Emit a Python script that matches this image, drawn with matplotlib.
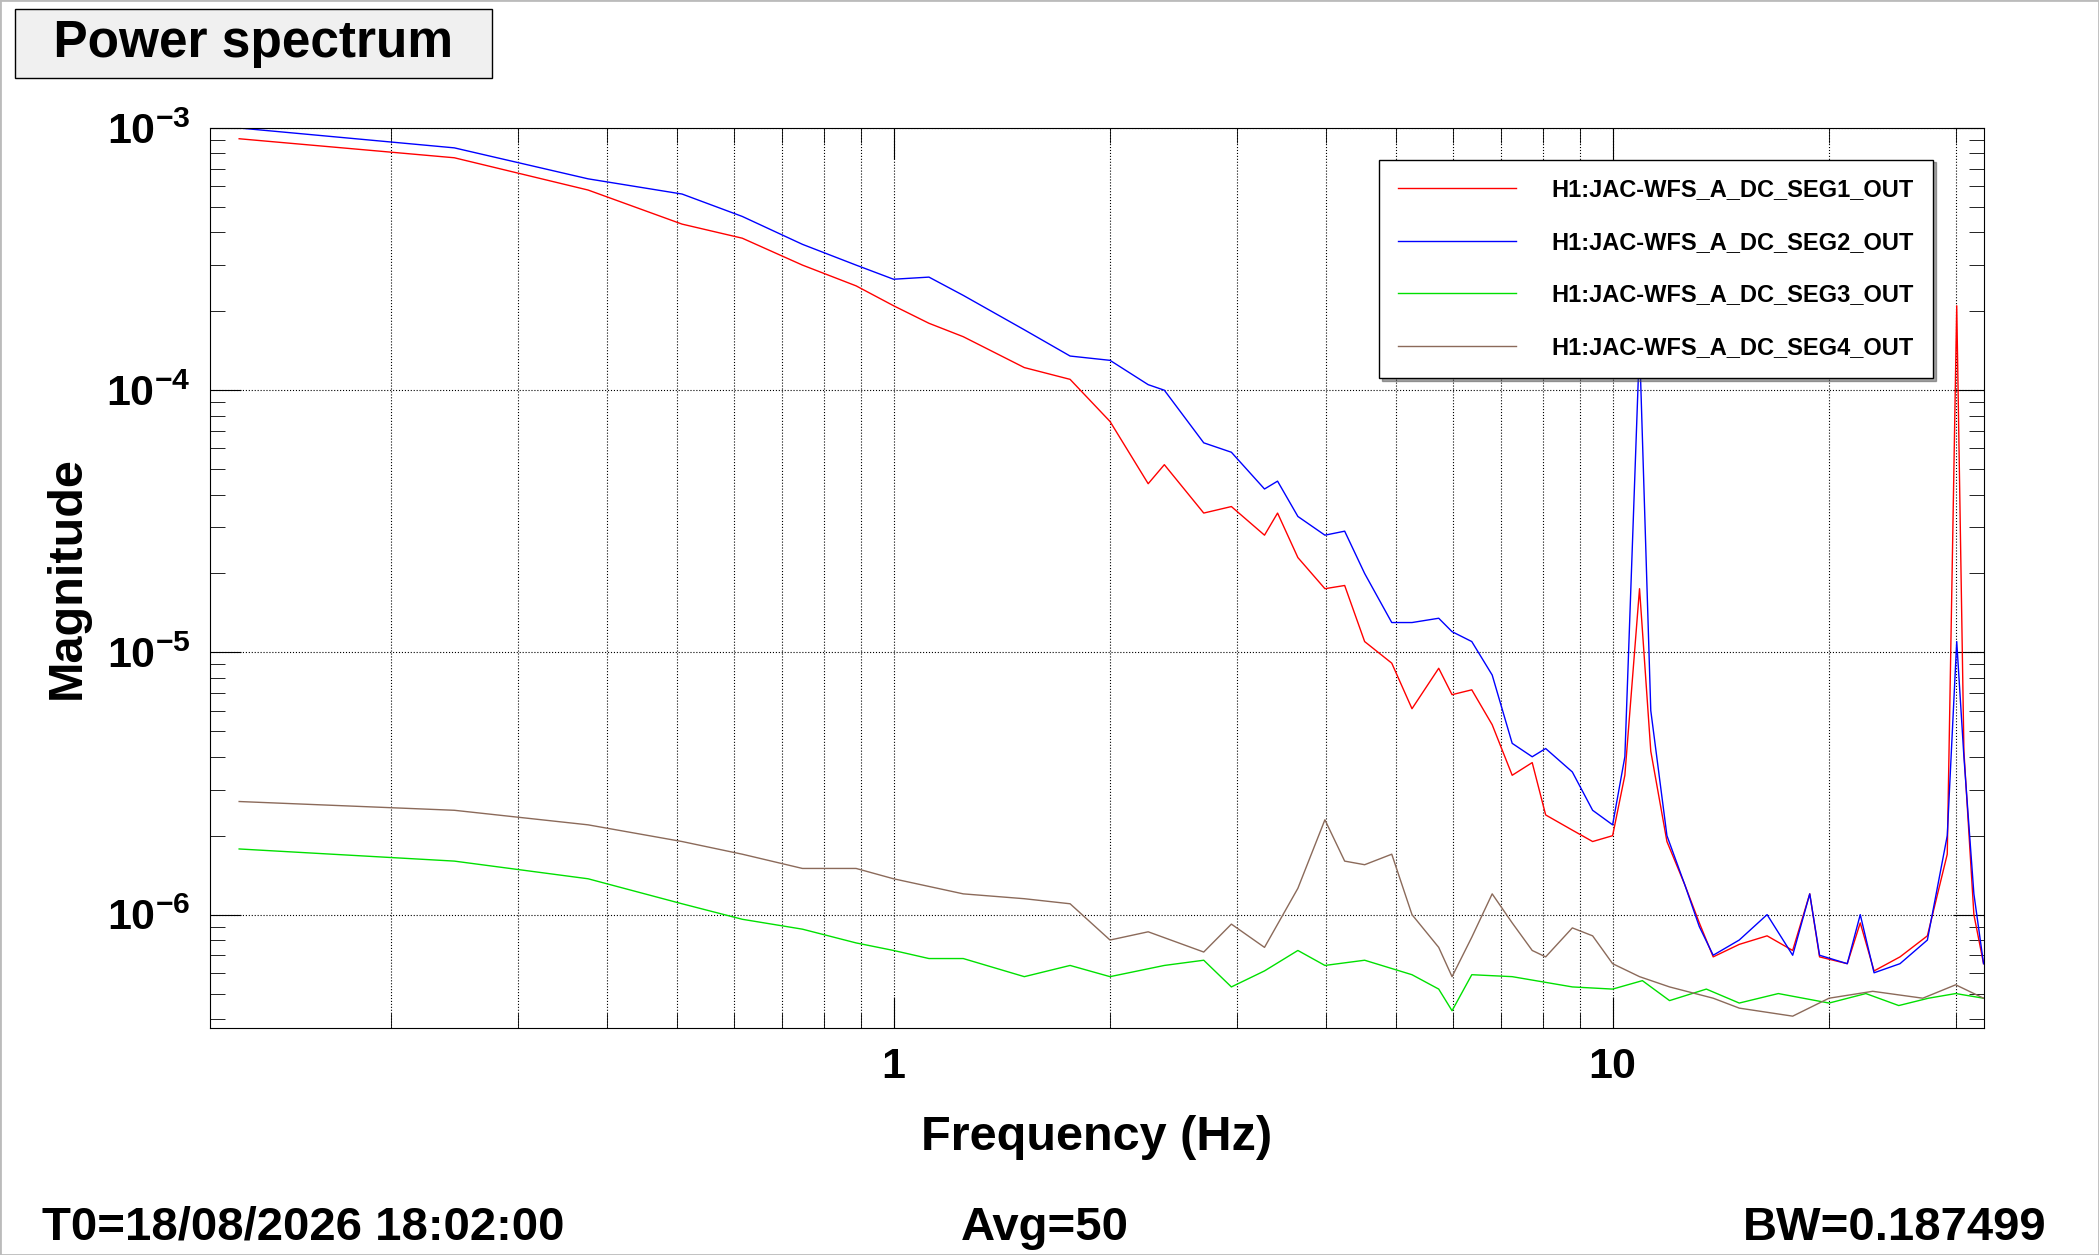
#plot_spectrum.py


import matplotlib.pyplot as plt
from matplotlib.patches import Rectangle

OUT = "out.png"
plt.rcParams["font.family"] = ["Liberation Sans", "DejaVu Sans"]
plt.rcParams["font.weight"] = "bold"

freq = [0.123, 0.245, 0.376, 0.508, 0.616, 0.747, 0.887, 1.0, 1.12, 1.25,
        1.52, 1.76, 2.0, 2.26, 2.38, 2.70, 2.95, 3.28, 3.42, 3.65,
        3.98, 4.24, 4.52, 4.93, 5.26, 5.73, 5.98, 6.37, 6.80, 7.25,
        7.73, 8.07, 8.79, 9.38, 10.0, 10.4, 10.9, 11.3, 11.9, 12.6,
        13.2, 13.8, 15.0, 16.4, 17.8, 18.8, 19.4, 21.2, 22.1, 23.1,
        25.1, 27.4, 29.2, 30.1, 30.8, 31.8, 32.8]
seg1 = [9.1e-4, 7.7e-4, 5.8e-4, 4.3e-4, 3.8e-4, 3.0e-4, 2.5e-4, 2.1e-4, 1.8e-4, 1.6e-4,
        1.22e-4, 1.1e-4, 7.6e-5, 4.4e-5, 5.2e-5, 3.4e-5, 3.6e-5, 2.8e-5, 3.4e-5, 2.3e-5,
        1.75e-5, 1.8e-5, 1.1e-5, 9.1e-6, 6.1e-6, 8.7e-6, 6.9e-6, 7.2e-6, 5.3e-6, 3.4e-6,
        3.8e-6, 2.4e-6, 2.1e-6, 1.9e-6, 2.0e-6, 3.4e-6, 1.75e-5, 4.2e-6, 1.9e-6, 1.3e-6,
        9.3e-7, 6.9e-7, 7.7e-7, 8.3e-7, 7.3e-7, 1.2e-6, 6.9e-7, 6.5e-7, 9.3e-7, 6.1e-7,
        6.9e-7, 8.3e-7, 1.7e-6, 2.1e-4, 4.2e-6, 1.0e-6, 6.5e-7]
seg2 = [1.0e-3, 8.4e-4, 6.4e-4, 5.6e-4, 4.6e-4, 3.6e-4, 3.0e-4, 2.65e-4, 2.7e-4, 2.3e-4,
        1.7e-4, 1.35e-4, 1.3e-4, 1.05e-4, 1.0e-4, 6.3e-5, 5.8e-5, 4.2e-5, 4.5e-5, 3.3e-5,
        2.8e-5, 2.9e-5, 2.0e-5, 1.3e-5, 1.3e-5, 1.35e-5, 1.2e-5, 1.1e-5, 8.2e-6, 4.5e-6,
        4.0e-6, 4.3e-6, 3.5e-6, 2.5e-6, 2.2e-6, 4e-6, 1.5e-4, 6e-6, 2.0e-6, 1.3e-6,
        9e-7, 7e-7, 8e-7, 1.0e-6, 7e-7, 1.2e-6, 7e-7, 6.5e-7, 1.0e-6, 6e-7,
        6.5e-7, 8e-7, 2e-6, 1.1e-5, 4e-6, 1.2e-6, 6.5e-7]

freq3 = [0.123, 0.245, 0.376, 0.508, 0.616, 0.747, 0.887, 1.0, 1.12, 1.25,
         1.52, 1.76, 2.0, 2.38, 2.70, 2.95, 3.28, 3.65, 3.98, 4.52,
         5.26, 5.73, 5.98, 6.37, 7.25, 8.79, 10.0, 11.0, 12.0, 13.5,
         15.0, 17.0, 20.0, 22.5, 25.0, 27.5, 30.0, 32.8]
seg3 = [1.78e-6, 1.6e-6, 1.37e-6, 1.1e-6, 9.6e-7, 8.8e-7, 7.8e-7, 7.3e-7, 6.8e-7, 6.8e-7,
        5.8e-7, 6.4e-7, 5.8e-7, 6.4e-7, 6.7e-7, 5.3e-7, 6.1e-7, 7.3e-7, 6.4e-7, 6.7e-7,
        5.9e-7, 5.2e-7, 4.3e-7, 5.9e-7, 5.8e-7, 5.3e-7, 5.2e-7, 5.6e-7, 4.7e-7, 5.2e-7,
        4.6e-7, 5.0e-7, 4.6e-7, 5.0e-7, 4.5e-7, 4.8e-7, 5.0e-7, 4.8e-7]

freq4 = [0.123, 0.245, 0.376, 0.508, 0.616, 0.747, 0.887, 1.0, 1.25, 1.52,
         1.76, 2.0, 2.26, 2.70, 2.95, 3.28, 3.65, 3.98, 4.24, 4.52,
         4.93, 5.26, 5.73, 5.98, 6.37, 6.80, 7.25, 7.73, 8.07, 8.79,
         9.38, 10.0, 10.9, 12.0, 13.8, 15.0, 17.8, 20.0, 23.0, 27.0,
         30.0, 32.8]
seg4 = [2.7e-6, 2.5e-6, 2.2e-6, 1.9e-6, 1.7e-6, 1.5e-6, 1.5e-6, 1.37e-6, 1.2e-6, 1.15e-6,
        1.1e-6, 8e-7, 8.6e-7, 7.2e-7, 9.2e-7, 7.5e-7, 1.26e-6, 2.3e-6, 1.6e-6, 1.55e-6,
        1.7e-6, 1.0e-6, 7.5e-7, 5.8e-7, 8.2e-7, 1.2e-6, 9.3e-7, 7.3e-7, 6.9e-7, 8.9e-7,
        8.3e-7, 6.5e-7, 5.8e-7, 5.3e-7, 4.8e-7, 4.4e-7, 4.1e-7, 4.8e-7, 5.1e-7, 4.8e-7,
        5.4e-7, 4.8e-7]

fig = plt.figure(figsize=(20.99, 12.55), dpi=100)
fig.patches.append(Rectangle((0, 0), 1, 1, transform=fig.transFigure, fill=False,
                             edgecolor="#bbbbbb", linewidth=2))
ax = fig.add_axes([0.100, 0.181, 0.845, 0.717])

ax.plot(freq, seg1, color="red", linewidth=1, label="H1:JAC-WFS_A_DC_SEG1_OUT")
ax.plot(freq, seg2, color="blue", linewidth=1, label="H1:JAC-WFS_A_DC_SEG2_OUT")
ax.plot(freq3, seg3, color="#00e000", linewidth=1, label="H1:JAC-WFS_A_DC_SEG3_OUT")
ax.plot(freq4, seg4, color="#8b6a5a", linewidth=1, label="H1:JAC-WFS_A_DC_SEG4_OUT")

ax.set_xscale("log")
ax.set_yscale("log")
ax.set_xlim(0.112, 32.8)
ax.set_ylim(3.7e-7, 1e-3)
ax.set_xticks([1, 10])
ax.set_xticklabels(["1", "10"])
ax.tick_params(which="both", direction="in", top=True, right=True, labelsize=31, pad=14)
ax.tick_params(which="major", length=22)
ax.tick_params(which="minor", length=11)
ax.grid(which="both", axis="x", color="black", linestyle=":", linewidth=0.8)
ax.grid(which="major", axis="y", color="black", linestyle=":", linewidth=0.8)
ax.set_xlabel("Frequency (Hz)", fontsize=35, fontweight="bold", labelpad=20)
ax.set_ylabel("Magnitude", fontsize=35, fontweight="bold", labelpad=12)

leg = ax.legend(loc="upper right", bbox_to_anchor=(0.978, 0.978), fontsize=17,
                fancybox=False, shadow=True, edgecolor="black", framealpha=1,
                handlelength=5, borderpad=0.8, labelspacing=1.25, handletextpad=1.5)
for t in leg.get_texts():
    t.set_fontweight("bold")

fig.text(0.012, 0.985, "  Power spectrum  ", fontsize=37, fontweight="bold", va="top",
         bbox=dict(boxstyle="square,pad=0.2", facecolor="#f0f0f0", edgecolor="black"))
fig.text(0.02, 0.012, "T0=18/08/2026 18:02:00", fontsize=34, fontweight="bold")
fig.text(0.498, 0.012, "Avg=50", fontsize=34, fontweight="bold", ha="center")
fig.text(0.975, 0.012, "BW=0.187499", fontsize=34, fontweight="bold", ha="right")

plt.savefig(OUT, dpi=100)
